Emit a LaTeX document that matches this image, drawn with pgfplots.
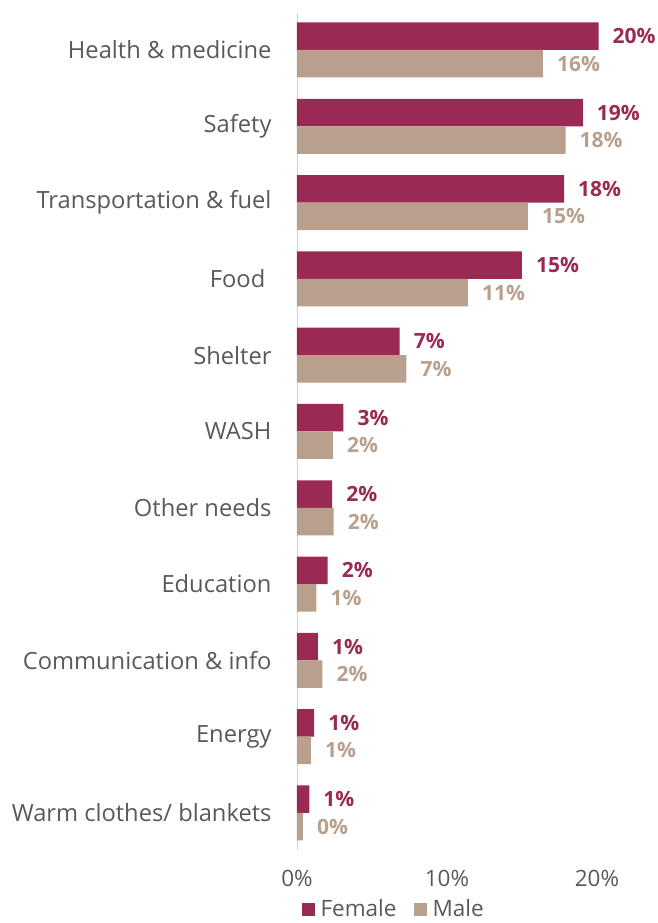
\documentclass[border=0pt]{standalone}
\usepackage{pgfplots}
\pgfplotsset{compat=1.18}
\usepackage{fontspec}
\setmainfont{Open Sans}
\definecolor{fem}{HTML}{9A2A53}
\definecolor{mal}{HTML}{B9A08D}
\definecolor{txt}{HTML}{595959}
\begin{document}
\begin{tikzpicture}
\begin{axis}[
  at={(0,0)}, anchor=south west,
  scale only axis, width=360pt, height=837pt,
  xbar, bar width=27.5pt,
  xmin=0, xmax=24, ymin=-0.485, ymax=10.485,
  axis lines=left, axis line style={-},
  x axis line style={draw=none},
  y axis line style={draw=black!18, line width=0.8pt},
  major tick length=0pt,
  xtick={0,10,20},
  xticklabel={\pgfmathprintnumber{\tick}\%},
  ytick={0,...,10},
  yticklabels={Warm clothes/ blankets, Energy, Communication \& info, Education, Other needs, WASH, Shelter, Food\ \ , Transportation \& fuel, Safety, Health \& medicine},
  yticklabel style={font=\fontsize{23.7}{28}\selectfont, text=txt, xshift=-22pt},
  xticklabel style={font=\fontsize{22.5}{27}\selectfont, text=txt, yshift=-17pt},
  /pgf/number format/assume math mode=true,
  clip=false,
  nodes near coords={\pgfmathprintnumber[fixed,precision=0]{\pgfplotspointmeta}\%},
  nodes near coords style={font=\fontsize{21}{25}\selectfont\bfseries, anchor=west, inner sep=0pt, xshift=14pt},
  legend style={at={(0.267,-0.0705)}, anchor=center, draw=none, fill=none, inner sep=0pt,
    legend columns=2, font=\fontsize{22.5}{27}\selectfont, text=txt,
    nodes={inner sep=1pt},
    /tikz/every odd column/.append style={column sep=5pt},
    /tikz/every even column/.append style={column sep=16pt}},
  legend image code/.code={\fill[#1] (0pt,-6.5pt) rectangle (13pt,6.5pt);},
]
\addplot[draw=none, fill=fem, bar shift=13.75pt, nodes near coords style={text=fem}] coordinates {
  (0.82,0) (1.15,1) (1.4,2) (2.05,3) (2.35,4) (3.1,5) (6.85,6) (15.0,7) (17.8,8) (19.05,9) (20.1,10)};
\addlegendentry{Female}
\addplot[draw=none, fill=mal, bar shift=-13.75pt, nodes near coords style={text=mal}] coordinates {
  (0.4,0) (0.93,1) (1.7,2) (1.3,3) (2.45,4) (2.4,5) (7.3,6) (11.4,7) (15.4,8) (17.9,9) (16.4,10)};
\addlegendentry{Male}
\end{axis}
\pgfresetboundingbox
\path[use as bounding box] (-297pt,-73pt) rectangle (361pt,850pt);
\end{tikzpicture}
\end{document}
